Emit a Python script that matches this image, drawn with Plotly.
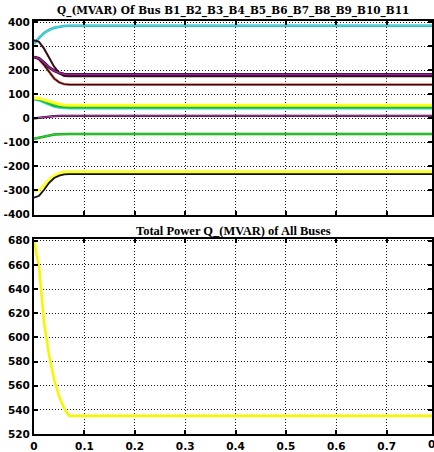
import plotly.graph_objects as go
from plotly.subplots import make_subplots

# time samples (s)
t = [0.0, 0.01, 0.02, 0.03, 0.04, 0.05, 0.06, 0.07, 0.8]

# Q (MVAR) of each bus
q_b1 = [310, 335, 355, 368, 377, 382, 384, 385, 385]      # cyan top
q_b2 = [325, 318, 290, 252, 215, 188, 176, 175, 175]      # dark
q_b3 = [255, 250, 232, 212, 198, 189, 184, 183, 183]      # purple
q_b4 = [255, 246, 222, 192, 166, 150, 142, 140, 140]      # dark / salmon
q_b5 = [85, 83, 77, 70, 63, 59, 56, 55, 55]               # yellow
q_b6 = [83, 80, 72, 63, 55, 51, 48, 48, 48]               # green
q_b7 = [80, 77, 68, 58, 51, 47, 45, 44, 44]               # cyan low
q_b8 = [0, 3, 6, 8, 9, 10, 10, 10, 10]                    # purple near 0
q_b9 = [-85, -80, -74, -70, -67, -66, -65, -65, -65]      # green
q_b10 = [-305, -298, -278, -255, -238, -228, -223, -222, -222]  # yellow
q_b11 = [-330, -322, -297, -268, -248, -238, -233, -232, -232]  # black

q_total = [680, 658, 612, 585, 565, 551, 541, 535, 535]

top_ticks = [-400, -300, -200, -100, 0, 100, 200, 300, 400]
bot_ticks = [520, 540, 560, 580, 600, 620, 640, 660, 680]
x_ticks = [0, 0.1, 0.2, 0.3, 0.4, 0.5, 0.6, 0.7]
x_labels = ["0", "0.1", "0.2", "0.3", "0.4", "0.5", "0.6", "0.7"]
x_max = 0.79

fig = make_subplots(rows=2, cols=1, vertical_spacing=0.06)

def add(y, color, width, row):
    fig.add_trace(go.Scatter(x=t, y=y, mode="lines",
                             line=dict(color=color, width=width),
                             showlegend=False, hoverinfo="skip"), row=row, col=1)

# top panel (underlay + line)
add(q_b1, "#1fa9b5", 2.6, 1); add(q_b1, "#40d8e0", 1.5, 1)
add(q_b4, "#e57a70", 2.8, 1); add(q_b4, "#2a0a0a", 1.3, 1)
add(q_b2, "#3a0d14", 2.0, 1)
add(q_b3, "#1a0010", 2.8, 1); add(q_b3, "#9a1f9a", 1.7, 1)
add(q_b7, "#30d8d0", 3.2, 1)
add(q_b6, "#1dbb2a", 3.2, 1)
add(q_b5, "#ffff20", 3.0, 1)
add(q_b8, "#1a0010", 2.2, 1); add(q_b8, "#b03ab0", 1.2, 1)
add(q_b9, "#168a16", 2.6, 1); add(q_b9, "#2cd02c", 1.5, 1)
add(q_b10, "#ffff30", 3.0, 1)
add(q_b11, "#111111", 1.9, 1)

# bottom panel
add(q_total, "#f6f600", 2.6, 2)

tickfont = dict(family="DejaVu Sans", size=10.5, color="black")
axis_common = dict(showline=True, linecolor="black", linewidth=2, mirror="ticks",
                   ticks="inside", ticklen=4, tickcolor="black", tickwidth=1.5,
                   showgrid=True, gridcolor="#1a1a1a", griddash="1px,2px", gridwidth=1,
                   zeroline=False, tickfont=tickfont)

fig.update_xaxes(range=[0, x_max], **axis_common)
fig.update_xaxes(tickvals=x_ticks, ticktext=x_labels, showticklabels=False, row=1, col=1)
fig.update_xaxes(tickvals=x_ticks, ticktext=["<b>%s</b>" % s for s in x_labels],
                 ticklabelstandoff=1, row=2, col=1)
fig.update_yaxes(**axis_common)
fig.update_yaxes(range=[-400, 405], tickvals=top_ticks,
                 ticktext=["<b>%d</b>" % v for v in top_ticks],
                 domain=[0.5314, 1.0], row=1, col=1)
fig.update_yaxes(range=[520, 681], tickvals=bot_ticks,
                 ticktext=["<b>%d</b>" % v for v in bot_ticks],
                 domain=[0.0, 0.471], row=2, col=1)

plot_h = 452 - 21 - 17
fig.update_layout(
    width=434, height=452,
    margin=dict(l=34, r=0, t=21, b=17),
    paper_bgcolor="white", plot_bgcolor="white",
    annotations=[
        dict(text="<b>Q_(MVAR) Of Bus B1_B2_B3_B4_B5_B6_B7_B8_B9_B10_B11</b>",
             x=0.5, xref="paper", y=(435 - 11) / plot_h, yref="paper", yanchor="middle",
             showarrow=False,
             font=dict(family="DejaVu Serif", size=10.5, color="black")),
        dict(text="<b>Total Power Q_(MVAR) of All Buses</b>",
             x=0.5, xref="paper", y=(435 - 232) / plot_h, yref="paper", yanchor="middle",
             showarrow=False,
             font=dict(family="Liberation Serif", size=12.5, color="black")),
        dict(text="<b>0.8</b>", x=0.8 / x_max, xref="paper", xanchor="center",
             y=-10 / plot_h, yref="paper", yanchor="middle", showarrow=False,
             font=dict(family="DejaVu Sans", size=10.5, color="black")),
    ],
)

fig.write_html("out.html")
